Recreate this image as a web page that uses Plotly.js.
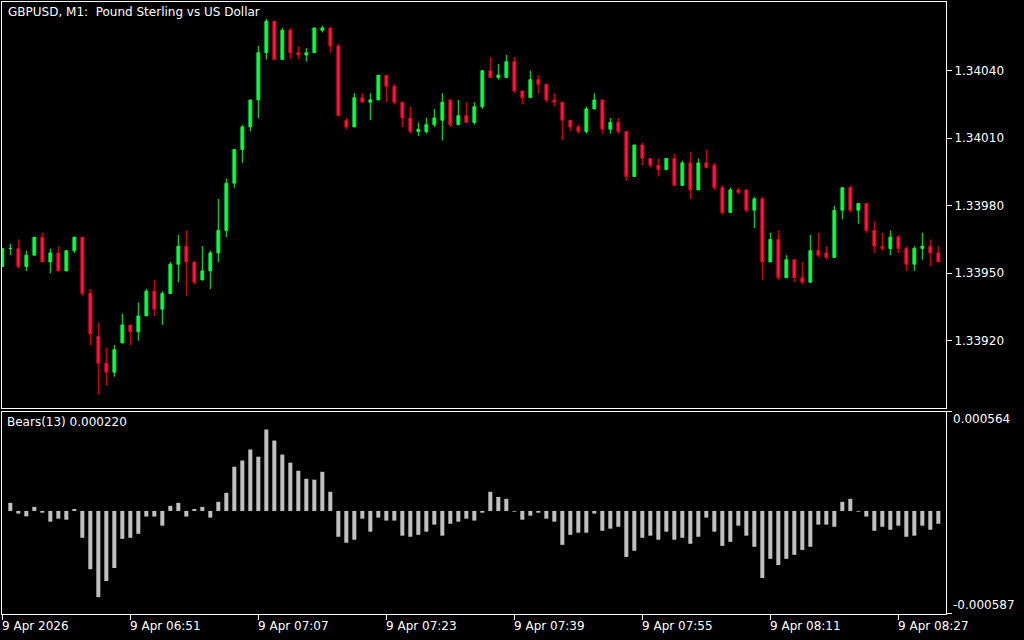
<!DOCTYPE html>
<html>
<head>
<meta charset="utf-8">
<script src="https://cdn.plot.ly/plotly-3.0.1.min.js"></script>
<style>html,body{margin:0;padding:0;background:#000;}#chart{width:1024px;height:640px;}</style>
</head>
<body>
<div id="chart"></div>
<script>
const openP = [1.33953,1.33961,1.33961,1.33953,1.33958,1.33966,1.33955,1.33959,1.33951,1.33960,
1.33966,1.33941,1.33922,1.33910,1.33906,1.33919,1.33927,1.33924,1.33931,1.33942,
1.33934,1.33941,1.33954,1.33962,1.33955,1.33947,1.33951,1.33959,1.33969,1.33990,
1.34005,1.34015,1.34027,1.34048,1.34062,1.34045,1.34058,1.34048,1.34047,1.34048,
1.34058,1.34059,1.34051,1.34018,1.34015,1.34028,1.34026,1.34027,1.34038,1.34033,
1.34026,1.34019,1.34013,1.34013,1.34016,1.34018,1.34027,1.34016,1.34020,1.34017,
1.34024,1.34040,1.34037,1.34037,1.34044,1.34031,1.34028,1.34036,1.34034,1.34027,
1.34026,1.34018,1.34015,1.34013,1.34023,1.34027,1.34014,1.34017,1.34013,1.33993,
1.34007,1.34001,1.33998,1.33996,1.34001,1.33989,1.33999,1.33987,1.33999,1.33998,
1.33988,1.33977,1.33987,1.33987,1.33978,1.33983,1.33955,1.33965,1.33948,1.33956,
1.33948,1.33946,1.33960,1.33959,1.33957,1.33978,1.33988,1.33978,1.33981,1.33969,
1.33962,1.33961,1.33966,1.33961,1.33954,1.33961,1.33962,1.33959];
const highP = [1.33961,1.33963,1.33965,1.33960,1.33966,1.33968,1.33961,1.33962,1.33960,1.33966,
1.33966,1.33943,1.33928,1.33917,1.33918,1.33932,1.33927,1.33937,1.33943,1.33947,
1.33942,1.33955,1.33967,1.33969,1.33955,1.33962,1.33960,1.33983,1.33992,1.34005,
1.34016,1.34027,1.34051,1.34063,1.34062,1.34059,1.34059,1.34051,1.34050,1.34059,
1.34060,1.34059,1.34052,1.34019,1.34030,1.34030,1.34030,1.34038,1.34038,1.34034,
1.34026,1.34024,1.34017,1.34019,1.34023,1.34030,1.34027,1.34027,1.34026,1.34026,
1.34040,1.34046,1.34043,1.34047,1.34046,1.34031,1.34040,1.34038,1.34034,1.34030,
1.34026,1.34018,1.34016,1.34024,1.34030,1.34027,1.34019,1.34019,1.34013,1.34007,
1.34008,1.34001,1.34001,1.34001,1.34003,1.34000,1.34004,1.34001,1.34005,1.33999,
1.33989,1.33988,1.33988,1.33987,1.33984,1.33984,1.33968,1.33969,1.33958,1.33956,
1.33955,1.33967,1.33968,1.33962,1.33980,1.33988,1.33989,1.33981,1.33981,1.33973,
1.33968,1.33969,1.33967,1.33962,1.33962,1.33968,1.33965,1.33962];
const lowP = [1.33953,1.33958,1.33952,1.33951,1.33958,1.33955,1.33950,1.33951,1.33951,1.33959,
1.33940,1.33918,1.33896,1.33900,1.33904,1.33919,1.33918,1.33920,1.33931,1.33931,
1.33927,1.33941,1.33946,1.33940,1.33945,1.33947,1.33943,1.33955,1.33966,1.33988,
1.33999,1.34013,1.34019,1.34045,1.34045,1.34045,1.34045,1.34045,1.34044,1.34048,
1.34057,1.34048,1.34020,1.34014,1.34015,1.34026,1.34018,1.34027,1.34026,1.34025,
1.34015,1.34012,1.34011,1.34012,1.34015,1.34009,1.34015,1.34016,1.34017,1.34016,
1.34023,1.34037,1.34036,1.34037,1.34030,1.34025,1.34028,1.34030,1.34026,1.34024,
1.34009,1.34013,1.34012,1.34012,1.34023,1.34012,1.34012,1.34012,1.33991,1.33993,
1.33998,1.33997,1.33993,1.33996,1.33989,1.33989,1.33983,1.33987,1.33997,1.33987,
1.33976,1.33977,1.33985,1.33977,1.33970,1.33947,1.33955,1.33947,1.33948,1.33946,
1.33945,1.33946,1.33957,1.33956,1.33957,1.33974,1.33977,1.33972,1.33968,1.33959,
1.33960,1.33958,1.33959,1.33951,1.33951,1.33956,1.33953,1.33955];
const closeP = [1.33961,1.33961,1.33953,1.33958,1.33966,1.33955,1.33959,1.33951,1.33960,1.33966,
1.33941,1.33923,1.33910,1.33906,1.33916,1.33927,1.33924,1.33931,1.33942,1.33934,
1.33941,1.33954,1.33962,1.33955,1.33946,1.33951,1.33959,1.33969,1.33990,1.34005,
1.34015,1.34027,1.34048,1.34062,1.34045,1.34058,1.34048,1.34047,1.34048,1.34059,
1.34059,1.34051,1.34020,1.34015,1.34028,1.34026,1.34027,1.34038,1.34033,1.34026,
1.34019,1.34013,1.34014,1.34016,1.34019,1.34026,1.34016,1.34020,1.34017,1.34024,
1.34040,1.34037,1.34038,1.34044,1.34031,1.34028,1.34036,1.34034,1.34027,1.34026,
1.34018,1.34015,1.34013,1.34023,1.34027,1.34014,1.34017,1.34013,1.33993,1.34007,
1.34001,1.33998,1.33996,1.34001,1.33989,1.33999,1.33987,1.33999,1.33997,1.33988,
1.33977,1.33987,1.33986,1.33978,1.33983,1.33955,1.33965,1.33948,1.33956,1.33948,
1.33946,1.33960,1.33958,1.33957,1.33978,1.33988,1.33978,1.33981,1.33969,1.33962,
1.33961,1.33966,1.33961,1.33954,1.33961,1.33962,1.33959,1.33955];
const bears = [0,0.000046,-0.000015,-0.000031,0.000023,-0.000010,-0.000061,-0.000044,-0.000050,0.000011,
-0.000153,-0.000332,-0.000491,-0.000399,-0.000325,-0.000159,-0.000153,-0.000130,-0.000032,-0.000032,
-0.000084,0.000029,0.000046,-0.000032,0.000011,0.000023,-0.000038,0.000052,0.000103,0.000252,
0.000287,0.000350,0.000309,0.000464,0.000401,0.000321,0.000275,0.000229,0.000183,0.000178,
0.000223,0.000109,-0.000147,-0.000181,-0.000164,-0.000044,-0.000118,-0.000038,-0.000055,-0.000055,
-0.000141,-0.000147,-0.000136,-0.000118,-0.000078,-0.000141,-0.000073,-0.000061,-0.000044,-0.000055,
-0.000010,0.000109,0.000080,0.000069,-0.000004,-0.000050,-0.000027,-0.000010,-0.000044,-0.000061,
-0.000193,-0.000136,-0.000124,-0.000124,-0.000015,-0.000113,-0.000101,-0.000090,-0.000262,-0.000227,
-0.000153,-0.000141,-0.000164,-0.000118,-0.000164,-0.000153,-0.000187,-0.000147,-0.000038,-0.000118,
-0.000199,-0.000176,-0.000084,-0.000141,-0.000204,-0.000382,-0.000273,-0.000308,-0.000273,-0.000250,
-0.000222,-0.000204,-0.000078,-0.000078,-0.000090,0.000052,0.000069,-0.000004,-0.000032,-0.000113,
-0.000090,-0.000107,-0.000084,-0.000147,-0.000141,-0.000084,-0.000107,-0.000073];
const xTickVals = [0,16,32,48,64,80,96,112];
const xTickText = ["9 Apr 2026","9 Apr 06:51","9 Apr 07:07","9 Apr 07:23","9 Apr 07:39","9 Apr 07:55","9 Apr 08:11","9 Apr 08:27"];
const priceTickVals = [1.33920,1.33950,1.33980,1.34010,1.34040];
const priceTickText = ["1.33920","1.33950","1.33980","1.34010","1.34040"];
const bearsMax = 0.000564, bearsMin = -0.000587;
const chartTitle = "GBPUSD, M1:\u00a0 Pound Sterling vs US Dollar";
const indicatorTitle = "Bears(13) 0.000220";

const idx = openP.map((_, i) => i);
const FONT = {family: "DejaVu Sans", size: 12, color: "#ffffff"};

const traces = [
  {
    type: "candlestick", x: idx, open: openP, high: highP, low: lowP, close: closeP,
    xaxis: "x", yaxis: "y", whiskerwidth: 0,
    increasing: {line: {color: "#00ff33", width: 1}, fillcolor: "#00ff44"},
    decreasing: {line: {color: "#ff0000", width: 1}, fillcolor: "#ff1464"},
    hoverinfo: "skip", showlegend: false
  },
  {
    type: "bar", x: idx, y: bears, xaxis: "x2", yaxis: "y2", width: 0.5,
    marker: {color: "#c0c0c0", line: {width: 0}}, hoverinfo: "skip", showlegend: false
  }
];

const annotations = [
  {text: chartTitle, xref: "paper", yref: "paper", x: 0.0045, y: 0.9837, xanchor: "left", yanchor: "middle", showarrow: false, font: FONT},
  {text: indicatorTitle, xref: "paper", yref: "paper", x: 0.003, y: 0.3137, xanchor: "left", yanchor: "middle", showarrow: false, font: FONT},
  {text: bearsMax.toFixed(6), xref: "paper", yref: "paper", x: 1.0055, y: 0.3186, xanchor: "left", yanchor: "middle", showarrow: false, font: FONT},
  {text: bearsMin.toFixed(6), xref: "paper", yref: "paper", x: 1.0055, y: 0.0147, xanchor: "left", yanchor: "middle", showarrow: false, font: FONT}
];
xTickVals.forEach((v, i) => {
  annotations.push({text: xTickText[i], xref: "x2", yref: "paper", x: v, y: -0.0196, xanchor: "left", yanchor: "middle", xshift: -2, showarrow: false, font: FONT});
});

const layout = {
  width: 1024, height: 640,
  margin: {l: 2, r: 78, t: 2, b: 26},
  paper_bgcolor: "#000000", plot_bgcolor: "#000000",
  font: FONT, showlegend: false, hovermode: false,
  boxgap: 0.5,
  xaxis: {
    domain: [0, 1], anchor: "y", range: [-0.04, 117.96],
    showgrid: false, zeroline: false, showticklabels: false, ticks: "",
    showline: true, linecolor: "#ffffff", linewidth: 1, mirror: true,
    rangeslider: {visible: false}, fixedrange: true
  },
  yaxis: {
    domain: [0.3366, 1], anchor: "x", side: "right",
    range: [1.3389009, 1.3407053],
    tickvals: priceTickVals, ticktext: priceTickText,
    ticks: "outside", ticklen: 5, tickcolor: "#ffffff", tickwidth: 1,
    showgrid: false, zeroline: false,
    showline: true, linecolor: "#ffffff", linewidth: 1, mirror: true,
    tickfont: FONT, fixedrange: true
  },
  xaxis2: {
    domain: [0, 1], anchor: "y2", matches: "x", range: [-0.04, 117.96],
    tickvals: xTickVals, showticklabels: false,
    ticks: "outside", ticklen: 5, tickcolor: "#ffffff", tickwidth: 1,
    showgrid: false, zeroline: false,
    showline: true, linecolor: "#ffffff", linewidth: 1, mirror: true, fixedrange: true
  },
  yaxis2: {
    domain: [0, 0.3302], anchor: "x2", side: "right",
    range: [bearsMin, bearsMax],
    tickvals: [bearsMin, bearsMax], showticklabels: false,
    ticks: "outside", ticklen: 5, tickcolor: "#ffffff", tickwidth: 1,
    showgrid: false, zeroline: false,
    showline: true, linecolor: "#ffffff", linewidth: 1, mirror: true, fixedrange: true
  },
  annotations: annotations
};

Plotly.newPlot("chart", traces, layout, {displayModeBar: false, staticPlot: true});
</script>
</body>
</html>
